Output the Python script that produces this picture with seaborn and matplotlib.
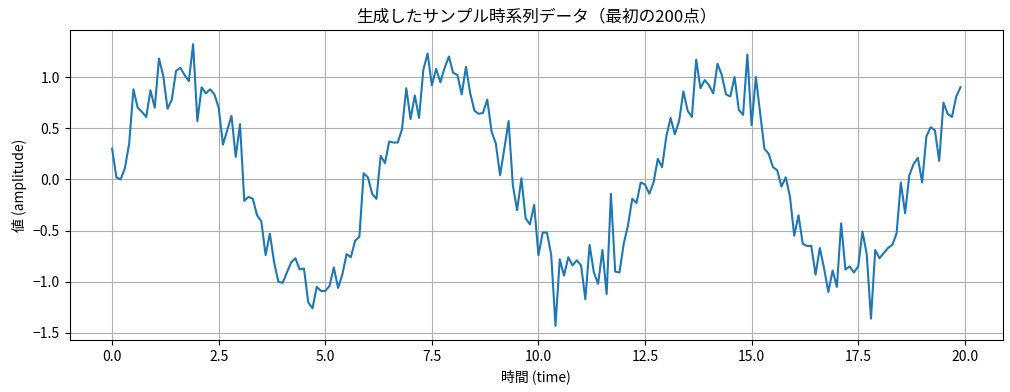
import numpy as np
import pandas as pd
import matplotlib
matplotlib.use("Agg")
import matplotlib.pyplot as plt
import seaborn as sns

plt.rcParams['font.family'] = ['Noto Sans CJK JP', 'DejaVu Sans']

time = np.round(np.arange(200) * 0.1, 1)
amplitude = [
    0.30, 0.02, 0.00, 0.11, 0.35, 0.88, 0.70, 0.66, 0.61, 0.87,
    0.70, 1.18, 1.01, 0.69, 0.78, 1.06, 1.09, 1.02, 0.96, 1.32,
    0.57, 0.90, 0.84, 0.88, 0.83, 0.70, 0.34, 0.48, 0.62, 0.22,
    0.54, -0.21, -0.17, -0.19, -0.35, -0.41, -0.74, -0.53, -0.81, -1.00,
    -1.01, -0.91, -0.81, -0.77, -0.88, -0.87, -1.20, -1.26, -1.05, -1.09,
    -1.09, -1.04, -0.86, -1.06, -0.93, -0.73, -0.76, -0.60, -0.56, 0.06,
    0.02, -0.14, -0.19, 0.23, 0.16, 0.37, 0.36, 0.36, 0.49, 0.89,
    0.59, 0.82, 0.60, 1.07, 1.23, 0.92, 1.08, 0.95, 1.09, 1.20,
    1.04, 1.02, 0.83, 1.10, 0.84, 0.67, 0.64, 0.65, 0.78, 0.47,
    0.35, 0.04, 0.30, 0.57, -0.06, -0.30, 0.01, -0.38, -0.44, -0.25,
    -0.74, -0.52, -0.52, -0.74, -1.43, -0.78, -0.94, -0.76, -0.84, -0.79,
    -0.84, -1.17, -0.64, -0.91, -1.02, -0.69, -1.12, -0.14, -0.90, -0.91,
    -0.63, -0.45, -0.19, -0.23, -0.03, -0.05, -0.14, -0.03, 0.20, 0.12,
    0.42, 0.60, 0.44, 0.57, 0.86, 0.67, 0.61, 1.17, 0.89, 0.97,
    0.92, 0.84, 1.13, 1.02, 0.83, 0.81, 1.00, 0.68, 0.63, 1.22,
    0.53, 1.00, 0.65, 0.30, 0.25, 0.12, 0.09, -0.07, 0.02, -0.17,
    -0.55, -0.35, -0.63, -0.65, -0.65, -0.93, -0.67, -0.87, -1.10, -0.89,
    -1.05, -0.43, -0.88, -0.85, -0.91, -0.85, -0.51, -0.73, -1.36, -0.69,
    -0.77, -0.72, -0.67, -0.64, -0.53, -0.03, -0.33, 0.04, 0.15, 0.21,
    -0.03, 0.42, 0.51, 0.48, 0.18, 0.75, 0.64, 0.61, 0.81, 0.90,
]

df = pd.DataFrame({"time": time, "amplitude": amplitude})

fig, ax = plt.subplots(figsize=(10.1, 3.92), dpi=100)
sns.lineplot(data=df, x="time", y="amplitude", ax=ax, color="#1f77b4", linewidth=1.5)
ax.grid(True)
ax.set_title("生成したサンプル時系列データ（最初の200点）")
ax.set_xlabel("時間 (time)")
ax.set_ylabel("値 (amplitude)")
fig.subplots_adjust(left=0.069, right=0.993, bottom=0.133, top=0.923)
fig.savefig("out.png", dpi=100)
